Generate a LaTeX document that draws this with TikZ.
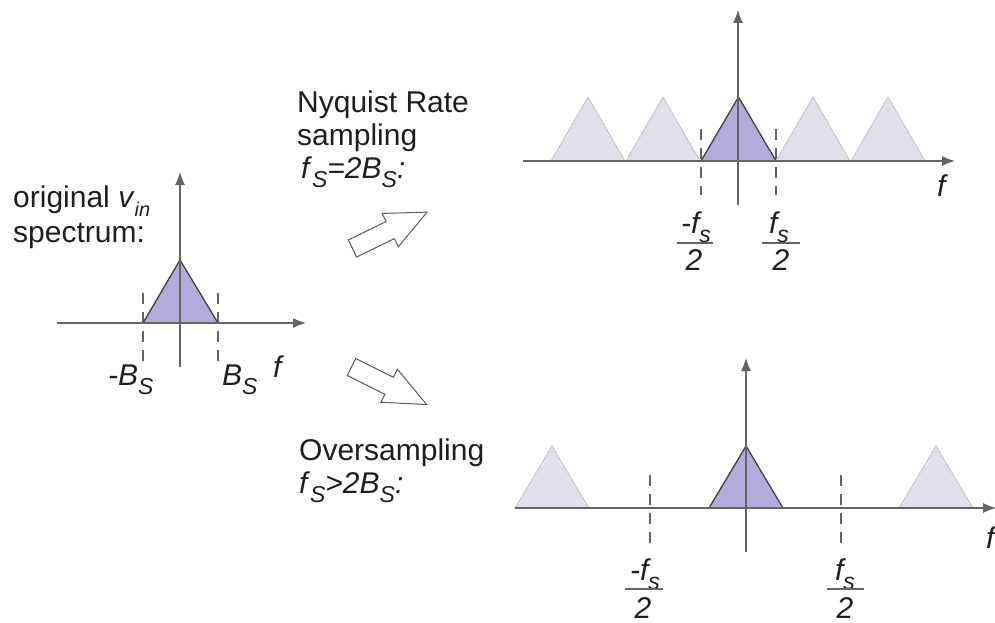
\documentclass[tikz,border=0pt]{standalone}
\usepackage{fontspec}
\setmainfont{Liberation Sans}
\usetikzlibrary{arrows.meta}
\definecolor{axisgray}{RGB}{100,100,100}
\definecolor{specfill}{RGB}{180,170,220}
\definecolor{imgfill}{RGB}{224,223,235}
\definecolor{imgline}{RGB}{190,190,198}
\definecolor{txt}{RGB}{30,30,30}
\newcommand\lsub[1]{\raisebox{-0.3em}{\fontsize{23}{23}\selectfont\itshape #1}}
\newcommand\ssub[1]{\raisebox{-0.3em}{\fontsize{20}{20}\selectfont\itshape #1}}
\tikzset{
 axisline/.style={draw=axisgray, line width=1.3pt, -{Latex[length=13pt,width=10pt]}},
 marker/.style={draw=axisgray, line width=1.1pt, dash pattern=on 11pt off 8pt},
 spec/.style={fill=specfill, draw=black!75, line width=1.3pt, line join=miter},
 img/.style={fill=imgfill, draw=imgline, line width=0.8pt},
 lbl/.style={inner sep=0pt, anchor=base west, text=txt, font=\fontsize{30}{34}\selectfont},
 flbl/.style={inner sep=0pt, anchor=base, text=txt, font=\fontsize{30}{34}\selectfont\itshape},
 fbar/.style={draw=axisgray, line width=1.2pt},
 blockarrow/.style={draw=black!65, line width=1pt, fill=white, line join=miter},
}
\begin{document}
\begin{tikzpicture}[x=1pt,y=-1pt]
\useasboundingbox (0,0) rectangle (995,623);

% ---------- left: original spectrum ----------
\coordinate (LxA) at (57,323);
\coordinate (LxB) at (306,323);
\coordinate (LyA) at (180,367);
\coordinate (LyB) at (180,172);
\coordinate (LmA1) at (143,293); \coordinate (LmA2) at (143,362);
\coordinate (LmB1) at (218,293); \coordinate (LmB2) at (218,362);
\draw[marker] (LmA1) -- (LmA2);
\draw[marker] (LmB1) -- (LmB2);
\draw[spec] (143,323) -- (180,260) -- (218,323) -- cycle;
\draw[axisline] (LxA) -- (LxB);
\draw[axisline] (LyA) -- (LyB);
\node[lbl] (orig) at (13,207) {original \textit{v}\ssub{in}};
\node[lbl] (specw) at (13,242) {spectrum:};
\node[lbl] (mBs) at (108,385) {\textit{-B}\lsub{S}};
\node[lbl] (pBs) at (222,385) {\textit{B}\lsub{S}};
\node[lbl] (lf) at (273,377) {\textit{f}};

% ---------- texts in the middle ----------
\node[lbl] (nyq1) at (297,113) {Nyquist Rate};
\node[lbl] (nyq2) at (297,146) {sampling};
\node[lbl] (nyq3) at (301,178) {\textit{f}\lsub{S}\textit{=2B}\lsub{S}\textit{:}};
\node[lbl] (ovs1) at (299,460) {Oversampling};
\node[lbl] (ovs2) at (299,493) {\textit{f}\lsub{S}\textit{>2B}\lsub{S}\textit{:}};

% block arrows
\begin{scope}[shift={(352.5,248.5)}, rotate=26]
\draw[blockarrow] (0,-9.5) -- (42,-9.5) -- (42,-18.5) -- (83,0) -- (42,18.5) -- (42,9.5) -- (0,9.5) -- cycle;
\end{scope}
\begin{scope}[shift={(351.5,367)}, rotate=-26.5]
\draw[blockarrow] (0,-9.5) -- (42,-9.5) -- (42,-18.5) -- (84,0) -- (42,18.5) -- (42,9.5) -- (0,9.5) -- cycle;
\end{scope}

% ---------- top right: Nyquist rate ----------
\coordinate (TxA) at (523,161);
\coordinate (TxB) at (955,161);
\coordinate (TyA) at (738,205);
\coordinate (TyB) at (738,10);
\coordinate (TmA1) at (701,129); \coordinate (TmA2) at (701,195);
\coordinate (TmB1) at (776,129); \coordinate (TmB2) at (776,195);
\foreach \c in {588,663,813,888}{
  \draw[img] (\c-37,161) -- (\c,97) -- (\c+37,161) -- cycle;
}
\draw[marker] (TmA1) -- (TmA2);
\draw[marker] (TmB1) -- (TmB2);
\draw[spec] (701,161) -- (738.5,97) -- (776,161) -- cycle;
\draw[axisline] (TxA) -- (TxB);
\draw[axisline] (TyA) -- (TyB);
\node[lbl] (tf) at (937,196) {\textit{f}};
\node[flbl] (tn1) at (696,233) {-f\lsub{s}};
\draw[fbar] (677,243) -- (713,243);
\node[flbl] (td1) at (694,270) {2};
\node[flbl] (tn2) at (779,233) {f\lsub{s}};
\draw[fbar] (762,243) -- (800,243);
\node[flbl] (td2) at (781,270) {2};

% ---------- bottom right: oversampling ----------
\coordinate (BxA) at (515,508);
\coordinate (BxB) at (996,508);
\coordinate (ByA) at (746,552);
\coordinate (ByB) at (746,358);
\coordinate (BmA1) at (650,475); \coordinate (BmA2) at (650,548);
\coordinate (BmB1) at (841,475); \coordinate (BmB2) at (841,548);
\draw[img] (515,508) -- (552,446) -- (589,508) -- cycle;
\draw[img] (899,508) -- (936,446) -- (973,508) -- cycle;
\draw[marker] (BmA1) -- (BmA2);
\draw[marker] (BmB1) -- (BmB2);
\draw[spec] (709,508) -- (746,446) -- (783,508) -- cycle;
\draw[axisline] (BxA) -- (BxB);
\draw[axisline] (ByA) -- (ByB);
\node[lbl] (bf) at (986,548) {\textit{f}};
\node[flbl] (bn1) at (645,580) {-f\lsub{s}};
\draw[fbar] (625,589) -- (663,589);
\node[flbl] (bd1) at (643,618) {2};
\node[flbl] (bn2) at (845,580) {f\lsub{s}};
\draw[fbar] (827,589) -- (864,589);
\node[flbl] (bd2) at (845,618) {2};
\end{tikzpicture}
\end{document}
